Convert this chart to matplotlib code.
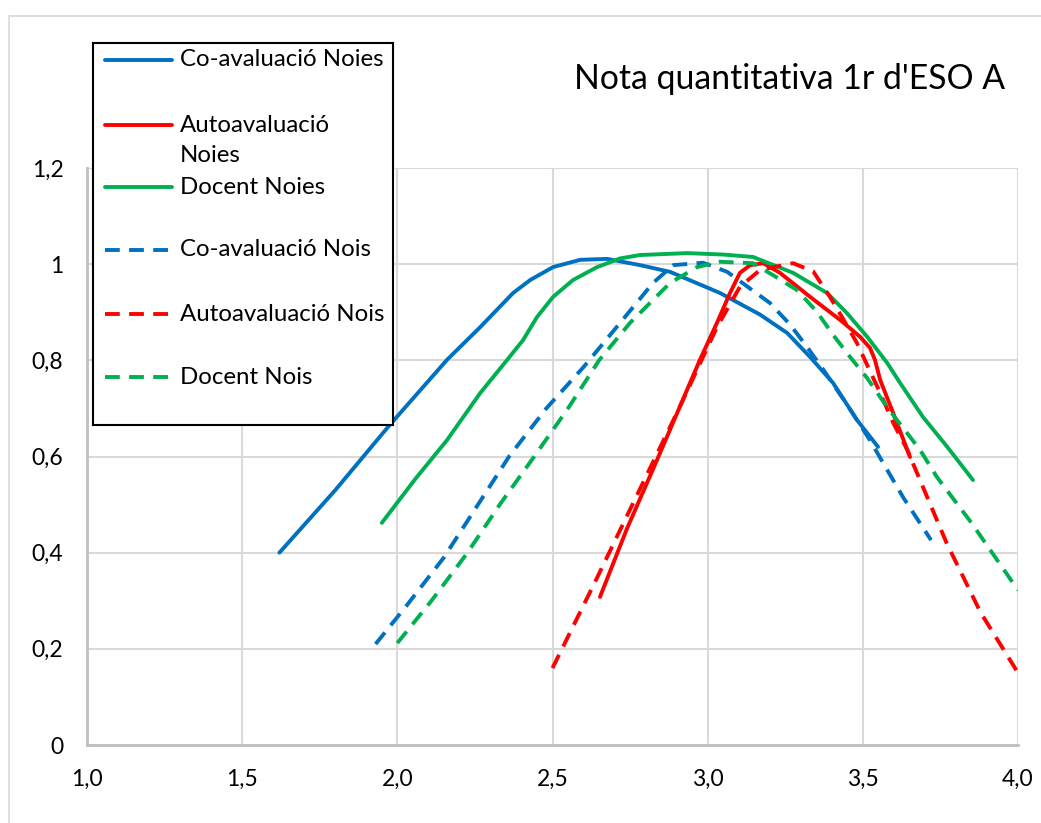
import matplotlib
matplotlib.use('Agg')
import matplotlib.pyplot as plt
from matplotlib.patches import Rectangle
from matplotlib.lines import Line2D
from matplotlib.ticker import FuncFormatter

plt.rcParams['font.family'] = ['Lato', 'DejaVu Sans']

# data
coav_noies_x = [1.62, 1.80, 1.976, 2.16, 2.267, 2.373, 2.428, 2.502, 2.589, 2.676, 2.782, 2.879,
                3.04, 3.169, 3.256, 3.33, 3.404, 3.481, 3.549]
coav_noies_y = [0.40, 0.53, 0.666, 0.801, 0.869, 0.940, 0.967, 0.994, 1.009, 1.011, 0.998, 0.984,
                0.940, 0.895, 0.857, 0.807, 0.753, 0.676, 0.620]

auto_noies_x = [2.653, 2.74, 2.837, 2.975, 3.03, 3.072, 3.104, 3.137, 3.179, 3.233, 3.33, 3.427,
                3.491, 3.523, 3.539, 3.556, 3.598, 3.652]
auto_noies_y = [0.308, 0.45, 0.593, 0.801, 0.878, 0.940, 0.982, 0.998, 1.002, 0.982, 0.932, 0.884,
                0.849, 0.826, 0.801, 0.759, 0.690, 0.599]

doc_noies_x = [1.95, 2.06, 2.16, 2.267, 2.354, 2.405, 2.45, 2.502, 2.566, 2.644, 2.718, 2.782,
               2.934, 3.05, 3.146, 3.275, 3.385, 3.449, 3.514, 3.578, 3.62, 3.694, 3.772, 3.855]
doc_noies_y = [0.462, 0.555, 0.634, 0.732, 0.801, 0.842, 0.890, 0.932, 0.967, 0.994, 1.012, 1.019,
               1.023, 1.020, 1.015, 0.982, 0.940, 0.898, 0.849, 0.795, 0.753, 0.682, 0.620, 0.551]

coav_nois_x = [1.93, 2.03, 2.15, 2.26, 2.36, 2.48, 2.60, 2.718, 2.824, 2.889, 2.985, 3.063, 3.201,
               3.266, 3.32, 3.369, 3.449, 3.523, 3.565, 3.63, 3.72]
coav_nois_y = [0.21, 0.29, 0.39, 0.50, 0.60, 0.70, 0.786, 0.878, 0.961, 0.998, 1.003, 0.984, 0.919,
               0.874, 0.828, 0.784, 0.708, 0.634, 0.587, 0.515, 0.426]

auto_nois_x = [2.50, 2.64, 2.78, 2.91, 3.03, 3.104, 3.169, 3.275, 3.34, 3.394, 3.433, 3.481, 3.517,
               3.556, 3.598, 3.643, 3.77, 3.88, 4.0]
auto_nois_y = [0.16, 0.343, 0.53, 0.703, 0.869, 0.953, 0.988, 1.002, 0.985, 0.932, 0.890, 0.836,
               0.786, 0.732, 0.670, 0.614, 0.42, 0.275, 0.15]

doc_nois_x = [2.00, 2.11, 2.225, 2.33, 2.44, 2.55, 2.65, 2.75, 2.879, 2.966, 3.04, 3.146, 3.211,
              3.288, 3.352, 3.404, 3.459, 3.514, 3.578, 3.61, 3.684, 3.739, 3.85, 4.0]
doc_nois_y = [0.212, 0.30, 0.399, 0.50, 0.599, 0.70, 0.80, 0.878, 0.961, 0.994, 1.005, 1.002, 0.977,
              0.946, 0.901, 0.853, 0.807, 0.763, 0.703, 0.676, 0.614, 0.557, 0.462, 0.322]

labels = ['Co-avaluació Noies', 'Autoavaluació\nNoies', 'Docent Noies',
          'Co-avaluació Nois', 'Autoavaluació Nois', 'Docent Nois']
xs = [coav_noies_x, auto_noies_x, doc_noies_x, coav_nois_x, auto_nois_x, doc_nois_x]
ys = [coav_noies_y, auto_noies_y, doc_noies_y, coav_nois_y, auto_nois_y, doc_nois_y]

x_ticks = [1.0, 1.5, 2.0, 2.5, 3.0, 3.5, 4.0]
y_ticks = [0, 0.2, 0.4, 0.6, 0.8, 1.0, 1.2]

BLUE, RED, GREEN = '#0070C0', '#FF0000', '#00B050'
colors = [BLUE, RED, GREEN, BLUE, RED, GREEN]
dash = (0, (3.8, 2.4))
styles = ['-', '-', '-', dash, dash, dash]
LW = 2.8

W, H = 1041, 823
fig = plt.figure(figsize=(W / 100, H / 100), dpi=100)

# light outer chart border
fig.patches.append(Rectangle((9 / W, -0.1), 1.2, 1 - 16 / H + 0.1, transform=fig.transFigure,
                             fill=False, edgecolor='#D9D9D9', lw=1.2))

ax = fig.add_axes([87 / W, 1 - 745 / H, (1018 - 87) / W, (745 - 168) / H])
for x, y, c, ls in zip(xs, ys, colors, styles):
    ax.plot(x, y, color=c, ls=ls, lw=LW, solid_capstyle='round', solid_joinstyle='round',
            dash_capstyle='butt', dash_joinstyle='round', zorder=3)

ax.set_xlim(1.0, 4.0)
ax.set_ylim(0, 1.2)
ax.set_xticks(x_ticks)
ax.set_yticks(y_ticks)
ax.xaxis.set_major_formatter(FuncFormatter(lambda v, p: f'{v:.1f}'.replace('.', ',')))
ax.yaxis.set_major_formatter(FuncFormatter(lambda v, p: f'{v:g}'.replace('.', ',')))
ax.tick_params(length=0, labelsize=16.5, colors='black')
ax.tick_params(axis='x', pad=17)
ax.tick_params(axis='y', pad=17)
ax.grid(True, color='#D9D9D9', lw=1.5, zorder=0)
ax.set_axisbelow(True)
for s in ['top', 'right']:
    ax.spines[s].set_visible(False)
for s in ['left', 'bottom']:
    ax.spines[s].set_color('#BFBFBF')
    ax.spines[s].set_linewidth(2)

fig.text(1005 / W, 1 - 79 / H, "Nota quantitativa 1r d'ESO A", ha='right', va='center',
         fontsize=24.3)

# legend box drawn in its own pixel-unit axes
lax = fig.add_axes([93 / W, 1 - 425 / H, 300 / W, 382 / H])
lax.set_xlim(0, 300)
lax.set_ylim(382, 0)
lax.set_xticks([])
lax.set_yticks([])
for s in lax.spines.values():
    s.set_color('black')
    s.set_linewidth(1.5)
rows = [17, 82, 144, 207, 271, 334]
for r, lab, c, ls in zip(rows, labels, colors, styles):
    lax.add_line(Line2D([12, 79], [r, r], color=c, ls=ls, lw=LW, solid_capstyle='round'))
    parts = lab.split('\n')
    for k, part in enumerate(parts):
        lax.text(87, r + 31 * k, part, va='center', ha='left', fontsize=17.3)

fig.savefig('out.png', dpi=100, facecolor='white')
